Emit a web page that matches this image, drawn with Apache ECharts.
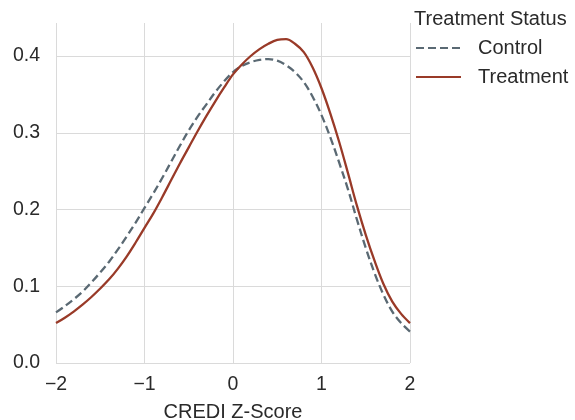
<!DOCTYPE html>
<html>
<head>
<meta charset="utf-8">
<script src="https://cdn.jsdelivr.net/npm/echarts@6/dist/echarts.min.js"></script>
<style>html,body{margin:0;padding:0;background:#fff}#c{width:575px;height:420px}</style>
</head>
<body>
<div id="c"></div>
<script>
const xValues = [-2.0,-1.9,-1.8,-1.7,-1.6,-1.5,-1.4,-1.3,-1.2,-1.1,-1.0,-0.9,-0.8,-0.7,-0.6,-0.5,-0.4,-0.3,-0.2,-0.1,0.0,0.1,0.2,0.3,0.4,0.5,0.6,0.7,0.8,0.9,1.0,1.1,1.2,1.3,1.4,1.5,1.6,1.7,1.8,1.9,2.0];
const controlValues = [0.066,0.074,0.083,0.093,0.105,0.118,0.132,0.148,0.165,0.183,0.202,0.221,0.241,0.262,0.283,0.303,0.321,0.337,0.353,0.367,0.379,0.387,0.392,0.395,0.396,0.394,0.388,0.379,0.366,0.347,0.323,0.294,0.261,0.226,0.187,0.150,0.117,0.089,0.067,0.052,0.041];
const treatmentValues = [0.052,0.059,0.067,0.076,0.086,0.097,0.109,0.123,0.139,0.157,0.176,0.195,0.216,0.238,0.260,0.281,0.302,0.322,0.341,0.359,0.376,0.389,0.400,0.409,0.416,0.421,0.422,0.416,0.405,0.385,0.358,0.325,0.288,0.247,0.205,0.167,0.133,0.103,0.080,0.064,0.052];
const seriesNames = ['Control', 'Treatment'];
const legendTitle = 'Treatment Status';
const xAxisName = 'CREDI Z-Score';

const pair = (ys) => xValues.map((x, i) => [x, ys[i]]);
const font = 'Arial, "Liberation Sans", sans-serif';
const txt = '#2a2a2a';
const grid = '#dadada';
const chart = echarts.init(document.getElementById('c'), null, {renderer: 'canvas'});
chart.setOption({
  animation: false,
  backgroundColor: '#ffffff',
  title: {
    text: legendTitle, left: 414, top: 9, padding: 0,
    textStyle: {fontFamily: font, fontSize: 20, fontWeight: 'normal', color: txt, lineHeight: 20}
  },
  legend: {
    orient: 'vertical', left: 415, top: 38, padding: 0, itemGap: 9,
    itemWidth: 45, itemHeight: 14,
    itemStyle: {opacity: 0},
    textStyle: {fontFamily: font, fontSize: 20, color: txt, lineHeight: 20, padding: [0, 0, 0, 12]},
    data: seriesNames
  },
  grid: {left: 56, right: 165, top: 23, bottom: 57, containLabel: false, outerBoundsMode: 'none'},
  xAxis: {
    type: 'value', min: -2, max: 2, interval: 1,
    name: xAxisName, nameLocation: 'middle', nameGap: 39,
    nameTextStyle: {fontFamily: font, fontSize: 20, color: txt},
    axisLine: {show: false}, axisTick: {show: false},
    axisLabel: {fontFamily: font, fontSize: 19.5, color: txt, margin: 12,
      formatter: v => (v < 0 ? '\u2212' + Math.abs(v) : String(v))},
    splitLine: {show: true, lineStyle: {color: grid, width: 1}}
  },
  yAxis: {
    type: 'value', min: 0, max: 0.443, interval: 0.1,
    axisLine: {show: false}, axisTick: {show: false},
    axisLabel: {fontFamily: font, fontSize: 19.5, color: txt, margin: 16,
      formatter: v => (Math.abs(v - Math.round(v * 10) / 10) < 1e-9 ? v.toFixed(1) : '')},
    splitLine: {show: true, lineStyle: {color: [grid, grid, grid, grid, grid, 'rgba(0,0,0,0)'], width: 1}}
  },
  series: [
    {name: seriesNames[0], type: 'line', smooth: 0.35, symbol: 'none', data: pair(controlValues),
     lineStyle: {color: '#5a6973', width: 2.3, type: [8, 4]}, itemStyle: {color: '#5a6973'}},
    {name: seriesNames[1], type: 'line', smooth: 0.35, symbol: 'none', data: pair(treatmentValues),
     lineStyle: {color: '#993a28', width: 2.3}, itemStyle: {color: '#993a28'}}
  ]
});
</script>
</body>
</html>
